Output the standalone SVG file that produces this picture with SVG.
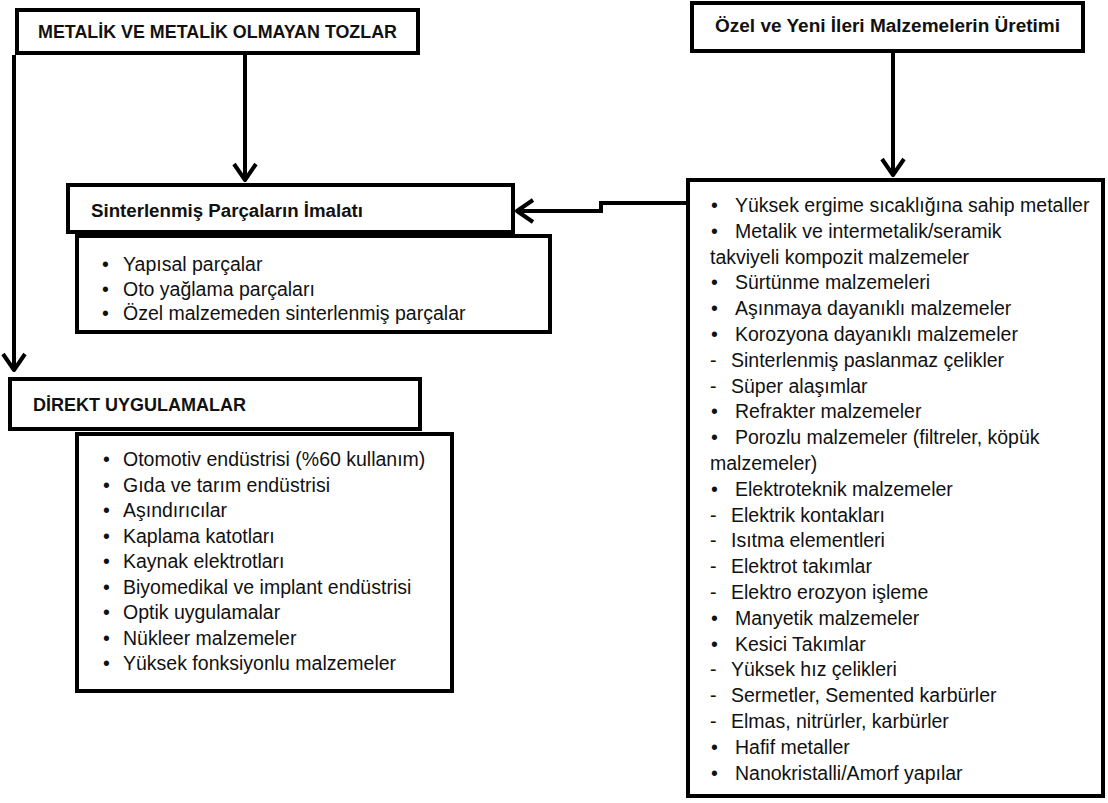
<svg xmlns="http://www.w3.org/2000/svg" width="1108" height="803" viewBox="0 0 1108 803">
<style>
.box{fill:#fff;stroke:#000;stroke-width:4}
.hd{font-family:"Liberation Sans",Arial,sans-serif;font-weight:bold;font-size:18px;fill:#111}
.it{font-family:"Liberation Sans",Arial,sans-serif;font-size:19.5px;fill:#111}
.con{fill:none;stroke:#000;stroke-width:4}
</style>
<defs>
<marker id="arr" markerUnits="userSpaceOnUse" viewBox="-20 -13 22 26" refX="0" refY="0" markerWidth="22" markerHeight="26" orient="auto">
<path d="M-17,-11 L-1,0 L-17,11" fill="none" stroke="#000" stroke-width="4" stroke-linejoin="round"/>
</marker>
</defs>
<rect width="1108" height="803" fill="#fff"/>

<g id="connectors">
<path class="con" d="M14,55 V371" marker-end="url(#arr)"/>
<path class="con" d="M245,55 V181" marker-end="url(#arr)"/>
<path class="con" d="M893,52 V176" marker-end="url(#arr)"/>
<path class="con" d="M687,203 H601 V211 H516" marker-end="url(#arr)"/>
</g>

<g id="node-tozlar">
<rect class="box" x="17" y="10" width="401" height="43"/>
<text class="hd" x="38" y="38" textLength="359" lengthAdjust="spacingAndGlyphs">METALİK VE METALİK OLMAYAN TOZLAR</text>
</g>

<g id="node-ozel">
<rect class="box" x="692" y="3" width="391" height="48"/>
<text class="hd" x="715" y="32" textLength="345" lengthAdjust="spacingAndGlyphs">Özel ve Yeni İleri Malzemelerin Üretimi</text>
</g>

<g id="node-sinter">
<rect class="box" x="68" y="185" width="445" height="47"/>
<text class="hd" x="91" y="217" textLength="272" lengthAdjust="spacingAndGlyphs">Sinterlenmiş Parçaların İmalatı</text>
</g>

<g id="node-sinter-list">
<rect class="box" x="77" y="236" width="473" height="96"/>
<g class="it">
<text x="102" y="271">•</text><text x="123" y="271">Yapısal parçalar</text>
<text x="102" y="296">•</text><text x="123" y="296">Oto yağlama  parçaları</text>
<text x="102" y="320">•</text><text x="123" y="320">Özel malzemeden sinterlenmiş parçalar</text>
</g>
</g>

<g id="node-direkt">
<rect class="box" x="10" y="379" width="410" height="50"/>
<text class="hd" x="33" y="411" textLength="213" lengthAdjust="spacingAndGlyphs">DİREKT UYGULAMALAR</text>
</g>

<g id="node-direkt-list">
<rect class="box" x="77" y="434" width="375" height="257"/>
<g class="it">
<text x="103" y="466">•</text><text x="123" y="466">Otomotiv endüstrisi (%60 kullanım)</text>
<text x="103" y="491.5">•</text><text x="123" y="491.5">Gıda ve tarım endüstrisi</text>
<text x="103" y="517">•</text><text x="123" y="517">Aşındırıcılar</text>
<text x="103" y="542.5">•</text><text x="123" y="542.5">Kaplama katotları</text>
<text x="103" y="568">•</text><text x="123" y="568">Kaynak elektrotları</text>
<text x="103" y="593.5">•</text><text x="123" y="593.5">Biyomedikal ve implant endüstrisi</text>
<text x="103" y="619">•</text><text x="123" y="619">Optik uygulamalar</text>
<text x="103" y="644.5">•</text><text x="123" y="644.5">Nükleer malzemeler</text>
<text x="103" y="670">•</text><text x="123" y="670">Yüksek fonksiyonlu malzemeler</text>
</g>
</g>

<g id="node-ileri-list">
<rect class="box" x="688" y="180" width="415" height="616"/>
<g class="it">
<text x="711" y="212">•</text><text x="735" y="212">Yüksek ergime sıcaklığına sahip metaller</text>
<text x="711" y="237.8">•</text><text x="735" y="237.8">Metalik ve intermetalik/seramik</text>
<text x="710" y="263.6">takviyeli kompozit malzemeler</text>
<text x="711" y="289.4">•</text><text x="735" y="289.4">Sürtünme malzemeleri</text>
<text x="711" y="315.2">•</text><text x="735" y="315.2">Aşınmaya dayanıklı malzemeler</text>
<text x="711" y="341">•</text><text x="735" y="341">Korozyona dayanıklı malzemeler</text>
<text x="710" y="366.8">-</text><text x="731" y="366.8">Sinterlenmiş paslanmaz çelikler</text>
<text x="710" y="392.6">-</text><text x="731" y="392.6">Süper alaşımlar</text>
<text x="711" y="418.4">•</text><text x="735" y="418.4">Refrakter malzemeler</text>
<text x="711" y="444.2">•</text><text x="735" y="444.2">Porozlu malzemeler (filtreler, köpük</text>
<text x="710" y="470">malzemeler)</text>
<text x="711" y="495.8">•</text><text x="735" y="495.8">Elektroteknik malzemeler</text>
<text x="710" y="521.6">-</text><text x="731" y="521.6">Elektrik kontakları</text>
<text x="710" y="547.4">-</text><text x="731" y="547.4">Isıtma elementleri</text>
<text x="710" y="573.2">-</text><text x="731" y="573.2">Elektrot takımlar</text>
<text x="710" y="599">-</text><text x="731" y="599">Elektro erozyon işleme</text>
<text x="711" y="624.8">•</text><text x="735" y="624.8">Manyetik malzemeler</text>
<text x="711" y="650.6">•</text><text x="735" y="650.6">Kesici Takımlar</text>
<text x="710" y="676.4">-</text><text x="731" y="676.4">Yüksek hız çelikleri</text>
<text x="710" y="702.2">-</text><text x="731" y="702.2">Sermetler, Semented karbürler</text>
<text x="710" y="728">-</text><text x="731" y="728">Elmas, nitrürler, karbürler</text>
<text x="711" y="753.8">•</text><text x="735" y="753.8">Hafif metaller</text>
<text x="711" y="779.6">•</text><text x="735" y="779.6">Nanokristalli/Amorf yapılar</text>
</g>
</g>
</svg>
